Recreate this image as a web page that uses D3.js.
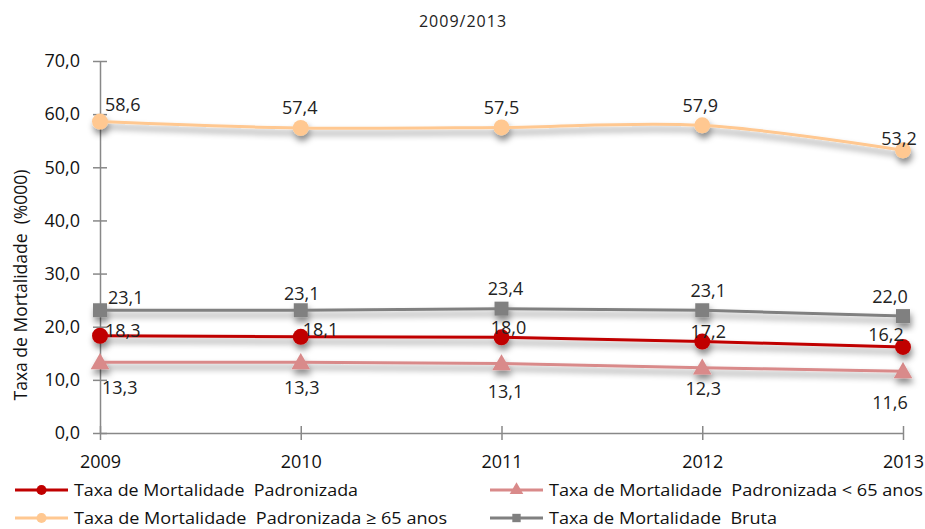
<!DOCTYPE html>
<html>
<head>
<meta charset="utf-8">
<script src="https://cdn.jsdelivr.net/npm/d3@7"></script>
<style>
  html, body { margin: 0; padding: 0; background: #fff; }
  svg { display: block; font-family: "Open Sans", "DejaVu Sans", sans-serif; }
  text { white-space: pre; }
</style>
</head>
<body>
<svg id="chart" width="925" height="529"></svg>
<script>
// Years on the x axis
const years = ["2009", "2010", "2011", "2012", "2013"];

// Mortality rates (per 100 000)
const padronizada        = [18.3, 18.1, 18.0, 17.2, 16.2];
const padronizadaMenor65 = [13.3, 13.3, 13.1, 12.3, 11.6];
const padronizadaMaior65 = [58.6, 57.4, 57.5, 57.9, 53.2];
const bruta              = [23.1, 23.1, 23.4, 23.1, 22.0];

// Y axis ticks
const yTicks = [0, 10, 20, 30, 40, 50, 60, 70];

const seriesNames = [
  "Taxa de Mortalidade  Padronizada",
  "Taxa de Mortalidade  Padronizada < 65 anos",
  "Taxa de Mortalidade  Padronizada \u2265 65 anos",
  "Taxa de Mortalidade  Bruta"
];

const fmt = v => d3.format(".1f")(v).replace(".", ",");

const svg = d3.select("#chart");

const x = d3.scalePoint().domain(years).range([100, 903]);
const y = d3.scaleLinear().domain([0, 70]).range([433, 61]);

// Soft drop shadow under lines and markers
const defs = svg.append("defs");
const f = defs.append("filter").attr("id", "shadow")
  .attr("x", "-20%").attr("y", "-50%").attr("width", "140%").attr("height", "200%");
f.append("feDropShadow").attr("dx", 1.5).attr("dy", 5).attr("stdDeviation", 3)
  .attr("flood-color", "#000").attr("flood-opacity", 0.45);

// Title
svg.append("text").attr("x", 463).attr("y", 27).attr("text-anchor", "middle")
  .attr("font-size", 16).attr("letter-spacing", 1).attr("fill", "#222").text("2009/2013");

// Y axis title
svg.append("text")
  .attr("transform", "translate(27,285) rotate(-90)")
  .attr("text-anchor", "middle").attr("font-size", 17.5).attr("fill", "#111")
  .text("Taxa de Mortalidade  (%000)");

const axisColor = "#888";

// Y axis
const yAxis = svg.append("g").attr("transform", "translate(100,0)")
  .call(d3.axisLeft(y).tickValues(yTicks).tickFormat(fmt).tickSizeInner(7).tickSizeOuter(0).tickPadding(13));
yAxis.select(".domain").attr("stroke", axisColor).attr("stroke-width", 1.5);
yAxis.selectAll(".tick line").attr("stroke", axisColor).attr("stroke-width", 1.5).attr("x2", -7).attr("x1", 7);
yAxis.selectAll(".tick text").attr("font-size", 18).attr("fill", "#111")
  .attr("font-family", "'Open Sans', sans-serif");

// X axis
const xAxis = svg.append("g").attr("transform", "translate(0,433)")
  .call(d3.axisBottom(x).tickSizeInner(7).tickSizeOuter(0).tickPadding(15));
xAxis.select(".domain").attr("stroke", axisColor).attr("stroke-width", 1.5);
xAxis.selectAll(".tick line").attr("stroke", axisColor).attr("stroke-width", 1.5).attr("y1", -7).attr("y2", 7);
xAxis.selectAll(".tick text").attr("font-size", 18).attr("fill", "#111")
  .attr("font-family", "'Open Sans', sans-serif");

// Series: values, colours, marker type, curve, and label placement [dx, dy, anchor]
const series = [
  { name: seriesNames[3], values: bruta, color: "#808080", marker: "square", curve: d3.curveLinear,
    labels: [[8, -13, "start"], [1, -17, "middle"], [4, -20, "middle"], [6, -20, "middle"], [-13, -19, "middle"]] },
  { name: seriesNames[2], values: padronizadaMaior65, color: "#FFC891", marker: "circle", curve: d3.curveCatmullRom,
    labels: [[5, -17, "start"], [-1, -20, "middle"], [0, -20, "middle"], [-2, -20, "middle"], [-4, -12, "middle"]] },
  { name: seriesNames[1], values: padronizadaMenor65, color: "#D98A8A", marker: "triangle", curve: d3.curveLinear,
    labels: [[2, 25, "start"], [1, 25, "middle"], [4, 28, "middle"], [1, 21, "middle"], [-13, 31, "middle"]] },
  { name: seriesNames[0], values: padronizada, color: "#C00000", marker: "circle", curve: d3.curveLinear,
    labels: [[5, -5, "start"], [2, -7, "start"], [7, -10, "middle"], [6, -10, "middle"], [-17, -12, "middle"]] }
];

function markerPath(type, size) {
  if (type === "circle") return d3.symbol(d3.symbolCircle, size)();
  if (type === "square") return d3.symbol(d3.symbolSquare, size)();
  return d3.symbol(d3.symbolTriangle, size)();
}
const markerSize = { circle: 200, square: 196, triangle: 150 };

const plot = svg.append("g");
series.forEach(s => {
  const pts = s.values.map((v, i) => [x(years[i]), y(v)]);
  const g = plot.append("g").attr("filter", "url(#shadow)");
  g.append("path")
    .attr("d", d3.line().curve(s.curve)(pts))
    .attr("fill", "none").attr("stroke", s.color).attr("stroke-width", 3);
  g.selectAll("path.mk").data(pts).join("path").attr("class", "mk")
    .attr("transform", d => `translate(${d[0]},${d[1] + (s.marker === "triangle" ? 1.5 : 0)})`)
    .attr("d", markerPath(s.marker, markerSize[s.marker]))
    .attr("fill", s.color);
});

// Data labels
series.forEach(s => {
  svg.append("g").selectAll("text").data(s.values).join("text")
    .attr("x", (v, i) => x(years[i]) + s.labels[i][0])
    .attr("y", (v, i) => y(v) + s.labels[i][1])
    .attr("dy", "0.35em")
    .attr("text-anchor", (v, i) => s.labels[i][2])
    .attr("font-size", 18).attr("fill", "#222")
    .text(fmt);
});

// Legend
const legendItems = [
  { name: seriesNames[0], color: "#C00000", marker: "circle", x: 15, y: 490, w: 284 },
  { name: seriesNames[1], color: "#D98A8A", marker: "triangle", x: 490, y: 490, w: 374 },
  { name: seriesNames[2], color: "#FFC891", marker: "circle", x: 15, y: 518, w: 373 },
  { name: seriesNames[3], color: "#808080", marker: "square", x: 490, y: 518, w: 228 }
];
const lg = svg.append("g");
legendItems.forEach(d => {
  const g = lg.append("g").attr("transform", `translate(${d.x},${d.y})`);
  g.append("line").attr("x1", 0).attr("x2", 53).attr("stroke", d.color).attr("stroke-width", 3);
  g.append("path").attr("transform", "translate(26.5,0)")
    .attr("d", markerPath(d.marker, d.marker === "square" ? 70 : 80)).attr("fill", d.color);
  g.append("text").attr("x", 59).attr("dy", "0.35em").attr("font-size", 17).attr("fill", "#111")
    .attr("textLength", d.w).attr("lengthAdjust", "spacingAndGlyphs")
    .text(d.name);
});
</script>
</body>
</html>
